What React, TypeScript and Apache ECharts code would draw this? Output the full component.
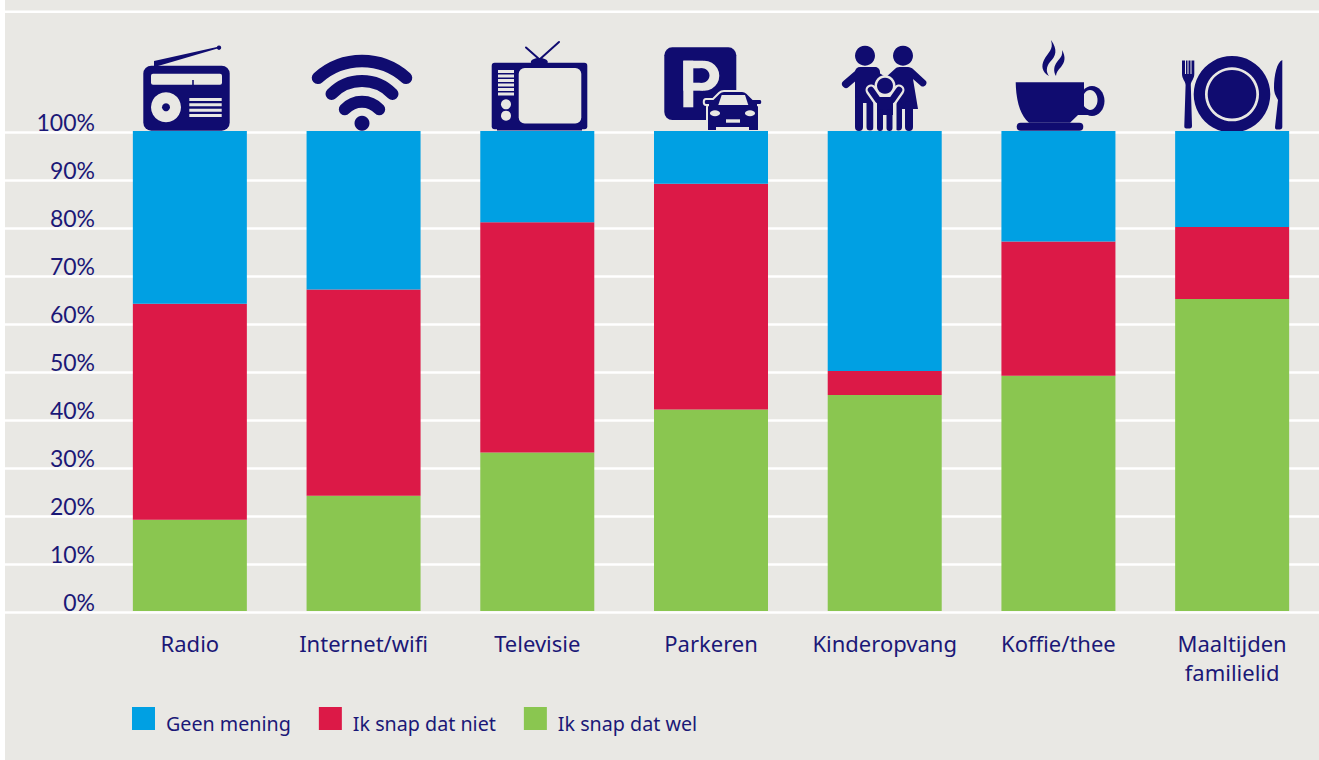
import React, { useEffect, useRef } from "react";
import * as echarts from "echarts";

const categories = ["Radio", "Internet/wifi", "Televisie", "Parkeren", "Kinderopvang", "Koffie/thee", "Maaltijden\nfamilielid"];
const ikSnapDatWel = [19, 24, 33, 42, 45, 49, 65];
const ikSnapDatNiet = [45, 43, 48, 47, 5, 28, 15];
const geenMening = [36, 33, 19, 11, 50, 23, 20];
const legendOrder = ["Geen mening", "Ik snap dat niet", "Ik snap dat wel"];

const NAVY = "#100c70";
const BG = "#e9e8e4";
const TEXT = "#1b1877";
const CAT_FONT = "'Noto Sans'";
const AXIS_FONT = "Lato";

const shapes: Record<string, string> = {
  carShape: "M707,131 L707,107 C707,106 708,105 709,105 L706,105 C703,105 703,99 706,99 L713,99 L719,93 C720,92 721,91 724,91 L742,91 C745,91 746,92 747,93 L753,99 L760,99 C763,99 763,105 760,105 L757,105 C758,105 759,106 759,107 L759,131 L748,131 L748,128 L717,128 L717,131 Z",
  steamA: "M1051,40 C1058,50 1056,56 1050,62 C1046,67 1046,72 1049,76 C1042,72 1041,66 1044,60 C1048,52 1054,50 1051,40 Z",
  steamB: "M1062,50 C1066,57 1065,62 1061,67 C1058,70 1056,73 1056,76 C1053,71 1054,66 1057,62 C1060,58 1063,56 1062,50 Z",
  cupBowl: "M1015.7,82.3 L1084,82.3 L1084,107 L1097,115 L1078,115 L1070,122.7 L1029,122.7 C1020,115 1016,100 1015.7,82.3 Z",
  forkShape: "M1182,60.5 L1194.3,60.5 L1194.3,74 C1194.3,79 1191,81 1190.8,85 L1192,126 C1192,128 1191,128.5 1188,128.5 C1185,128.5 1184.3,128 1184.3,126 L1185.6,85 C1185.4,81 1182,79 1182,74 Z",
  knifeShape: "M1282.3,60 L1282.3,127 C1282.3,129 1281,129.5 1278,129.5 C1275.5,129.5 1275,129 1275,127 L1278,100 C1275,95 1274,92 1274,88 C1274,75 1277,62 1282.3,60 Z",
  motherBody: "M885,78 L896,68 C897,67 899,67 901,67 L908,67 C910,67 912,68 913,69 L926,81 C928,84 924,88 921,86 L913,79 L918,109 L895,109 Z",
};
Object.keys(shapes).forEach((k) => {
  echarts.graphic.registerShape(k, (echarts.graphic as any).extendPath(shapes[k], {}));
});

const rect = (x: number, y: number, w: number, h: number, fill: string, r = 0) => ({
  type: "rect", shape: { x, y, width: w, height: h, r }, style: { fill },
});
const circle = (cx: number, cy: number, r: number, fill: string) => ({
  type: "circle", shape: { cx, cy, r }, style: { fill },
});
const ellipse = (cx: number, cy: number, rx: number, ry: number, fill: string) => ({
  type: "ellipse", shape: { cx, cy, rx, ry }, style: { fill },
});
const line = (x1: number, y1: number, x2: number, y2: number, w: number, stroke: string, cap = "round") => ({
  type: "line", shape: { x1, y1, x2, y2 }, style: { stroke, lineWidth: w, lineCap: cap },
});
const arc = (cx: number, cy: number, r: number, half: number, w: number) => ({
  type: "arc",
  shape: { cx, cy, r, startAngle: -Math.PI / 2 - half, endAngle: -Math.PI / 2 + half },
  style: { stroke: NAVY, lineWidth: w, lineCap: "round", fill: null },
});
const path = (type: string, fill: string, extra: any = {}) => ({ type, style: { fill, ...extra } });

const radioIcon = [
  { type: "polygon", shape: { points: [[154, 61], [217, 47], [217.5, 48.5], [158, 66], [154, 66]] }, style: { fill: NAVY } },
  circle(219, 47.7, 2.2, NAVY),
  rect(143.3, 65.7, 86.4, 65, NAVY, 8),
  rect(151, 73.7, 71, 11, BG, 2),
  rect(192.2, 80, 1.6, 5, NAVY),
  circle(166, 107.3, 15, BG),
  circle(166, 107.3, 4, NAVY),
  ...[98, 103.3, 108.7, 114].map((y) => rect(189.3, y, 32.4, 3, BG)),
];

const wifiIcon = [
  arc(362, 126.9, 65.9, Math.asin(44 / 65.9), 12.5),
  arc(362, 123.3, 42.3, Math.asin(30.5 / 42.3), 12),
  arc(362, 125, 23.3, Math.asin(17.2 / 23.3), 12),
  circle(362, 123.3, 7.5, NAVY),
];

const tvIcon = [
  line(539.3, 59.3, 526, 47.5, 2, NAVY),
  line(539.8, 59.3, 559, 42, 2, NAVY),
  ellipse(539.3, 62, 8.5, 4, NAVY),
  rect(491.7, 62.7, 95.6, 66.5, NAVY, 3),
  rect(497, 128, 85, 2.5, NAVY),
  rect(518.7, 68, 62.6, 55.5, BG, 6),
  ...[70, 74.5, 79, 83.5, 88, 92.5].map((y) => rect(498, y, 16, 3, BG)),
  circle(506, 104.3, 5, BG),
  circle(506, 115.7, 5, BG),
];

const parkingIcon = [
  rect(664.3, 47.3, 72, 72.7, NAVY, 8),
  rect(683.3, 60.7, 10, 46.6, BG),
  rect(683.3, 60.7, 20, 30, BG),
  circle(704.3, 75.7, 15, BG),
  rect(693.3, 68.3, 9, 14.4, NAVY),
  circle(702.3, 75.5, 7.2, NAVY),
  path("carShape", NAVY, { stroke: BG, lineWidth: 2 }),
  { type: "polygon", shape: { points: [[718.3, 105], [748.3, 105], [745, 95], [721.7, 95]] }, style: { fill: BG } },
  ellipse(715, 113.3, 5, 3, BG),
  ellipse(750, 113.3, 5, 3, BG),
  rect(726, 119.3, 14, 3.4, BG),
];

const familyIcon = [
  circle(865, 55.7, 10, NAVY),
  circle(903, 55.7, 10, NAVY),
  line(846, 84, 860, 72, 8, NAVY),
  rect(855, 67, 25, 36, NAVY, 5),
  { type: "polygon", shape: { points: [[876, 67], [870, 67], [884, 76], [880, 84]] }, style: { fill: NAVY } },
  line(859, 100, 859, 127, 8, NAVY),
  line(870, 100, 870, 127, 7, NAVY),
  path("motherBody", NAVY),
  line(898.5, 105, 898.5, 127, 7, NAVY),
  line(909, 105, 909, 127, 8, NAVY),
  circle(885, 85.7, 10.5, BG),
  line(871, 90, 878, 100, 11, BG),
  line(899, 90, 892, 100, 11, BG),
  rect(873.5, 98, 23, 33, BG),
  circle(885, 85.7, 8, NAVY),
  line(871, 90, 878, 100, 6.5, NAVY),
  line(899, 90, 892, 100, 6.5, NAVY),
  rect(877, 97, 16, 18, NAVY),
  line(880, 112, 880, 128, 6, NAVY),
  line(889.5, 112, 889.5, 128, 6, NAVY),
];

const cupIcon = [
  path("steamA", NAVY),
  path("steamB", NAVY),
  ellipse(1092, 101, 12.5, 15, NAVY),
  ellipse(1090, 100, 7.5, 10, BG),
  path("cupBowl", NAVY),
  rect(1016.7, 122.7, 66.6, 8, NAVY, 4),
];

const plateIcon = [
  circle(1232, 94.3, 38.3, NAVY),
  circle(1232, 94.3, 27, BG),
  circle(1232, 94.3, 24.3, NAVY),
  path("forkShape", NAVY),
  ...[1185, 1187.5, 1190.5].map((x) => rect(x, 60, 1, 14, BG)),
  path("knifeShape", NAVY),
];

const icons = [radioIcon, wifiIcon, tvIcon, parkingIcon, familyIcon, cupIcon, plateIcon];

export default function App() {
  const ref = useRef<HTMLDivElement>(null);
  useEffect(() => {
    document.body.style.margin = "0";
    const chart = echarts.init(ref.current!, undefined, { renderer: "svg" });
    const barSeries = (name: string, data: number[], color: string) => ({
      name, type: "bar", stack: "total", data, barWidth: 114,
      xAxisIndex: 0, yAxisIndex: 0, itemStyle: { color },
    });
    chart.setOption({
      animation: false,
      backgroundColor: "transparent",
      grid: [
        { left: 103, right: 0, top: 131, height: 480 },
        { left: 5, right: 0, top: 132, height: 480 },
      ],
      xAxis: [
        {
          type: "category", gridIndex: 0, data: categories,
          axisLine: { show: false }, axisTick: { show: false },
          axisLabel: { color: TEXT, fontFamily: CAT_FONT, fontSize: 22, lineHeight: 29, margin: 17, interval: 0 },
        },
        { type: "category", gridIndex: 1, data: [""], show: false },
      ],
      yAxis: [
        {
          type: "value", gridIndex: 0, min: 0, max: 100, interval: 10,
          axisLine: { show: false }, axisTick: { show: false }, splitLine: { show: false },
          axisLabel: {
            formatter: "{value}%", color: TEXT, fontFamily: AXIS_FONT, fontSize: 23,
            margin: 8, verticalAlign: "bottom", lineHeight: 18, align: "right",
          },
        },
        {
          type: "value", gridIndex: 1, min: 0, max: 100, interval: 10,
          axisLine: { show: false }, axisTick: { show: false }, axisLabel: { show: false },
          splitLine: { show: true, lineStyle: { color: "#ffffff", width: 2.5 } },
        },
      ],
      legend: {
        data: legendOrder, left: 132, top: 707, padding: 0, icon: "rect",
        itemWidth: 23, itemHeight: 23, itemGap: 28,
        formatter: "{a|{name}}",
        textStyle: {
          color: TEXT, fontFamily: CAT_FONT, fontSize: 19.7,
          rich: { a: { color: TEXT, fontFamily: CAT_FONT, fontSize: 19.7, padding: [10, 0, 0, 6] } },
        },
      },
      series: [
        barSeries("Ik snap dat wel", ikSnapDatWel, "#8ac650"),
        barSeries("Ik snap dat niet", ikSnapDatNiet, "#dc1947"),
        barSeries("Geen mening", geenMening, "#00a0e3"),
      ],
      graphic: {
        elements: [
          { type: "rect", shape: { x: 5, y: 10.5, width: 1314, height: 2.5 }, style: { fill: "#ffffff" } },
          ...icons.map((children) => ({ type: "group", children })),
        ],
      },
    });
    return () => chart.dispose();
  }, []);
  return (
    <div style={{ position: "absolute", left: 0, top: 0, width: 1319, height: 760, background: "#ffffff", overflow: "hidden" }}>
      <div style={{ position: "absolute", left: 5, top: 0, width: 1314, height: 760, background: BG }} />
      <div ref={ref} style={{ position: "absolute", left: 0, top: 0, width: 1319, height: 760 }} />
    </div>
  );
}
